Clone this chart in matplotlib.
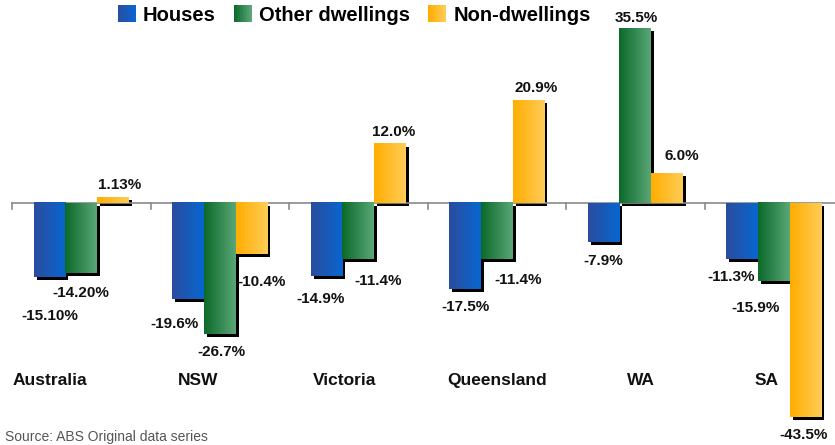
import numpy as np
import matplotlib
matplotlib.use("Agg")
import matplotlib.pyplot as plt
from matplotlib.patches import Patch, Rectangle
from matplotlib.colors import LinearSegmentedColormap
from matplotlib.transforms import ScaledTranslation
from matplotlib.legend_handler import HandlerBase

plt.rcParams['font.family'] = ['Liberation Sans', 'DejaVu Sans']

# data
regions = ["Australia", "NSW", "Victoria", "Queensland", "WA", "SA"]
series = ["Houses", "Other dwellings", "Non-dwellings"]
houses = [-15.10, -19.6, -14.9, -17.5, -7.9, -11.3]
other_dwellings = [-14.20, -26.7, -11.4, -11.4, 35.5, -15.9]
non_dwellings = [1.13, -10.4, 12.0, 20.9, 6.0, -43.5]
value_labels = [
    ["-15.10%", "-19.6%", "-14.9%", "-17.5%", "-7.9%", "-11.3%"],
    ["-14.20%", "-26.7%", "-11.4%", "-11.4%", "35.5%", "-15.9%"],
    ["1.13%", "-10.4%", "12.0%", "20.9%", "6.0%", "-43.5%"],
]

# styling / layout
grads = [("#2a4d9e", "#0866d0"), ("#0b6a2a", "#5aa677"), ("#ffad00", "#ffcd58")]
# label offsets in pixels (dx, dy) relative to bar end, dy positive = up
label_offsets = [
    [(0, -39), (-14, -25), (-6, -23), (0, -18), (0, -19), (-11, -18)],
    [(0, -20), (2, -18), (20, -22), (21, -21), (1, 10), (-18, -27)],
    [(7, 12), (10, -28), (4, 12), (8, 12), (15, 17), (-2, -18)],
]
cat_shift = [-0.23, -0.16, -0.10, 0.0, 0.04, -0.05]
width = 0.229


class GradHandler(HandlerBase):
    # legend square drawn as thin vertical strips to fake the gradient
    def create_artists(self, legend, orig_handle, xdescent, ydescent,
                       width, height, fontsize, trans):
        cmap = orig_handle._grad_cmap
        n = 12
        arts = []
        for k in range(n):
            r = Rectangle((-xdescent + k * width / n, -ydescent), width / n * 1.05, height,
                          facecolor=cmap(k / (n - 1)), edgecolor='none', transform=trans)
            arts.append(r)
        return arts


fig = plt.figure(figsize=(8.35, 4.45), dpi=100)
ax = fig.add_axes([0, 0, 1, 1])
ax.axis('off')

xlim = (-0.5866, 5.442)
ylim = (-49.2, 41.26)

shadow = ax.transData + ScaledTranslation(3 / 100, -3 / 100, fig.dpi_scale_trans)
grad = np.linspace(0, 1, 64).reshape(1, -1)
x = np.arange(len(regions))
all_vals = [houses, other_dwellings, non_dwellings]
handles = []

for j, vals in enumerate(all_vals):
    cmap = LinearSegmentedColormap.from_list(f"g{j}", grads[j])
    pos = x + (j - 1) * width
    sh = ax.bar(pos, vals, width, color="black", zorder=1)
    for p in sh:
        p.set_transform(shadow)
    bars = ax.bar(pos, vals, width, color="none", zorder=3)
    for i, b in enumerate(bars):
        x0, y0 = b.get_x(), b.get_y()
        ax.imshow(grad, cmap=cmap, aspect='auto', interpolation='bilinear',
                  extent=(x0, x0 + b.get_width(), y0, y0 + b.get_height()), zorder=3)
        ax.annotate(value_labels[j][i], (pos[i], vals[i]),
                    xytext=label_offsets[j][i], textcoords='offset pixels',
                    ha='center', va='center', fontsize=11, fontweight='bold',
                    color='#111111', zorder=5)
    h = Patch(facecolor=grads[j][1])
    h._grad_cmap = cmap
    handles.append(h)

# zero axis with ticks between categories
ax.plot([-0.5, xlim[1]], [0, 0], color="#8a8a8a", lw=1.2, zorder=2)
for b in np.arange(-0.5, len(regions), 1.0):
    ax.plot([b, b], [0, -1.3], color="#8a8a8a", lw=1.2, zorder=2)

for i, r in enumerate(regions):
    ax.text(x[i] + cat_shift[i], -36.0, r, ha='center', va='center',
            fontsize=12.5, fontweight='bold', color='#111111', zorder=5)

ax.set_xlim(*xlim)
ax.set_ylim(*ylim)

fig.legend(handles, series, loc='center', bbox_to_anchor=(0.424, 0.966), ncol=3,
           frameon=False, prop={'size': 14.5, 'weight': 'bold'},
           handlelength=0.9, handleheight=0.9, handletextpad=0.35,
           columnspacing=0.9, borderaxespad=0,
           handler_map={Patch: GradHandler()})

fig.text(5 / 835, 1 - 437 / 445, "Source: ABS Original data series", fontsize=10,
         color='#555555', ha='left', va='center')

fig.savefig("out.png", dpi=100)
